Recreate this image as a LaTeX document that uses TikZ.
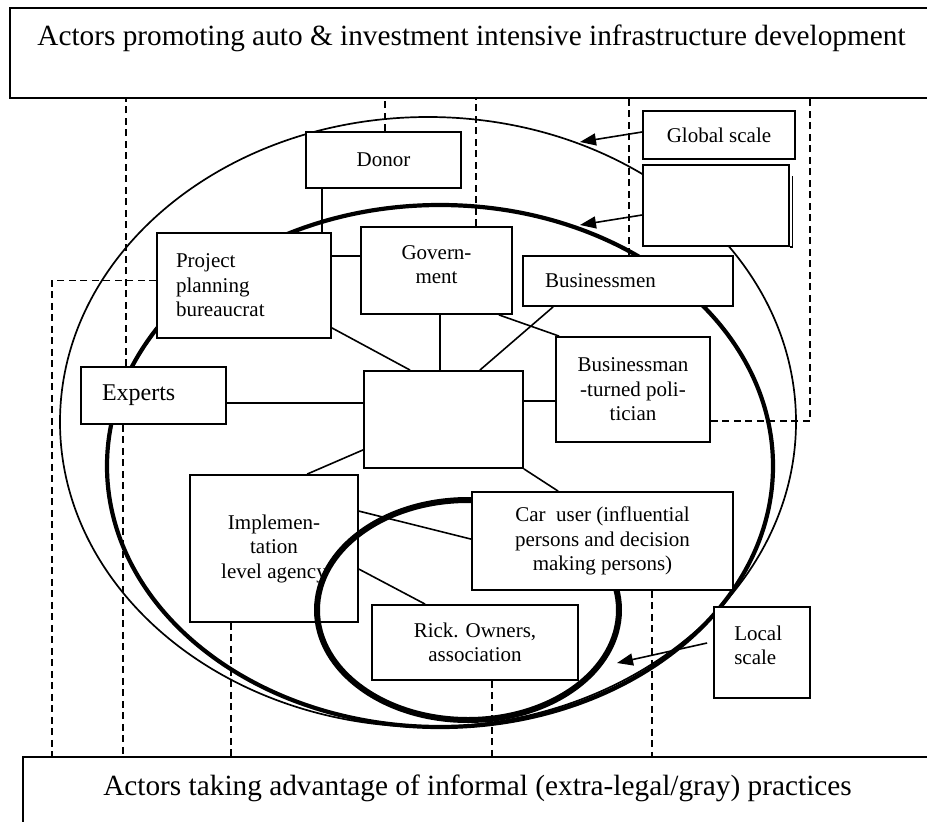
\documentclass[tikz,border=0pt]{standalone}
\usepackage{fontspec}
\setmainfont{Liberation Serif}
\usetikzlibrary{arrows.meta,backgrounds}
\newcommand\boxfont{\fontsize{21pt}{24.5pt}\selectfont}
\newcommand\bigboxfont{\fontsize{24pt}{28pt}\selectfont}
\newcommand\titlefont{\fontsize{29.3pt}{34pt}\selectfont}

\begin{document}
\begin{tikzpicture}[x=1pt,y=-1pt,
  actorbox/.style={draw, line width=1.8pt, fill=white, inner sep=0pt, font=\boxfont, align=center},
  actorlbox/.style={actorbox, align=left},
  bandbox/.style={draw, line width=2.4pt, fill=white, inner sep=0pt, anchor=north west},
  tie/.style={line width=1.6pt},
  guideline/.style={line width=1.8pt, dash pattern=on 7pt off 4.5pt},
  scalearrow/.style={line width=1.6pt, -{Triangle[length=16pt,width=12pt]}},
]
\useasboundingbox (0,0) rectangle (927,822);
\clip (0,0) rectangle (927,822);

% the two bands of actors
\node[bandbox, minimum width=940pt, minimum height=90pt] (topbox) at (9,7) {};
\node[font=\titlefont, anchor=base] (toptitle) at (471.5,45)
  {Actors promoting auto \& investment intensive infrastructure development};
\node[bandbox, minimum width=920pt, minimum height=100pt] (botbox) at (22,756) {};
\node[font=\titlefont, anchor=base] (bottitle) at (477.5,795)
  {Actors taking advantage of informal (extra-legal/gray) practices};

% actors
\node[actorbox, minimum width=155pt, minimum height=56pt] (donor) at (383.5,160) {Donor};
\node[actorbox, minimum width=152pt, minimum height=48pt] (glob) at (719,135) {Global scale};
\node[actorbox, minimum width=146pt, minimum height=81pt] (empty) at (716,205.5) {};
\node[actorlbox, minimum height=105pt, text width=136pt, inner xsep=19pt] (proj) at (244,285.5)
  {Project\\planning\\bureaucrat};
\node[actorbox, minimum width=151pt, minimum height=87pt] (gov) at (436.5,270.5) {};
\node[font=\boxfont, align=center, inner sep=0pt] (govtext) at ([yshift=6pt]gov.center) {Govern-\\ment};
\node[actorlbox, minimum height=50pt, text width=166pt, inner xsep=22pt] (bus) at (628,281) {Businessmen};
\node[actorlbox, font=\bigboxfont, minimum height=57pt, text width=103pt, inner xsep=21pt] (exp) at (153.5,395.5) {Experts};
\node[actorbox, minimum width=159pt, minimum height=97pt] (central) at (443.5,419.5) {};
\node[actorbox, minimum width=154pt, minimum height=105pt] (bt) at (633,389.5)
  {Businessman\\-turned poli-\\tician};
\node[actorbox, fill=none, minimum width=168pt, minimum height=147pt] (impl) at (274,548.5)
  {Implemen-\\tation\\level agency};
\node[actorbox, minimum width=261pt, minimum height=98pt] (car) at (602.5,541)
  {Car\ \ user (influential\\persons and decision\\making persons)};
\node[actorbox, minimum width=206pt, minimum height=75pt] (rick) at (475,642.5)
  {Rick. Owners,\\association};
\node[actorbox, minimum width=96pt, minimum height=91pt] (local) at (762,652.5) {};
\node[font=\boxfont, align=left, anchor=west, inner sep=0pt] (localtext) at ([xshift=21pt,yshift=7pt]local.west)
  {Local\\scale};
\draw[line width=1.8pt] ([xshift=2.5pt,yshift=-12pt]empty.north east) -- ([xshift=2.5pt]empty.south east) -- (empty.south east);

\begin{scope}[on background layer]
  % dashed guides between the bands and the actors
  \draw[guideline] ([xshift=46pt]exp.north west) -- ([xshift=46pt]exp.north west |- topbox.south);
  \draw[guideline] ([xshift=43pt]exp.south west) -- ([xshift=43pt]exp.south west |- botbox.north);
  \draw[guideline] ([yshift=5pt]proj.west) -| ([xshift=30pt]botbox.north west);
  \draw[guideline] ([xshift=80pt]donor.north west) -- ([xshift=80pt]donor.north west |- topbox.south);
  \draw[guideline] ([xshift=116pt]gov.north west) -- ([xshift=116pt]gov.north west |- topbox.south);
  \draw[guideline] ([xshift=107pt]bus.north west) -- ([xshift=107pt]bus.north west |- topbox.south);
  \draw[guideline] ([yshift=-85pt]bt.north east) -| ([xshift=801pt]topbox.south west);
  \draw[guideline] ([xshift=42pt]impl.south west) -- ([xshift=42pt]impl.south west |- botbox.north);
  \draw[guideline] ([xshift=121pt]rick.south west) -- ([xshift=121pt]rick.south west |- botbox.north);
  \draw[guideline] ([xshift=181pt]car.south west) -- ([xshift=181pt]car.south west |- botbox.north);

  % scale rings
  \draw[line width=1.7pt] (428,422) ellipse [x radius=368pt, y radius=305pt];
  \draw[line width=4.2pt] (440,466) ellipse [x radius=333pt, y radius=261pt];
  \draw[line width=6pt] (468,610) ellipse [x radius=151pt, y radius=110pt];

  % links between actors
  \draw[tie] ([xshift=17pt]donor.south west) -- ([xshift=17pt]donor.south west |- proj.north);
  \draw[tie] ([yshift=-24pt]proj.north east) -- ([yshift=-24pt]proj.north east -| gov.west);
  \draw[tie] ([yshift=11pt]proj.south east) -- ([xshift=47pt]central.north west);
  \draw[tie] ([xshift=80pt]gov.south west) -- ([xshift=80pt]gov.south west |- central.north);
  \draw[tie] ([xshift=-14pt]gov.south east) -- ([xshift=4pt]bt.north west);
  \draw[tie] ([xshift=31pt]bus.south west) -- ([xshift=-44pt]central.north east);
  \draw[tie] ([yshift=-37pt]exp.north east) -- ([yshift=-37pt]exp.north east -| central.west);
  \draw[tie] ([yshift=-31pt]central.north east) -- ([yshift=-31pt]central.north east -| bt.west);
  \draw[tie] ([yshift=19pt]central.south west) -- ([xshift=118pt]impl.north west);
  \draw[tie] (central.south east) -- ([xshift=87pt]car.north west);
  \draw[tie] ([yshift=-37pt]impl.north east) -- ([yshift=-48pt]car.north west);
  \draw[tie] ([yshift=-95pt]impl.north east) -- ([xshift=54pt]rick.north west);
\end{scope}

% scale pointers
\coordinate (globtip) at (580,142);
\coordinate (nattip) at (580,225);
\coordinate (loctip) at (617,663);
\draw[scalearrow] ([yshift=3pt]glob.west) -- (globtip);
\draw[scalearrow] ([yshift=-9.5pt]empty.west) -- (nattip);
\draw[scalearrow] ([yshift=9.5pt,xshift=-6pt]local.west) -- (loctip);
\end{tikzpicture}
\end{document}
